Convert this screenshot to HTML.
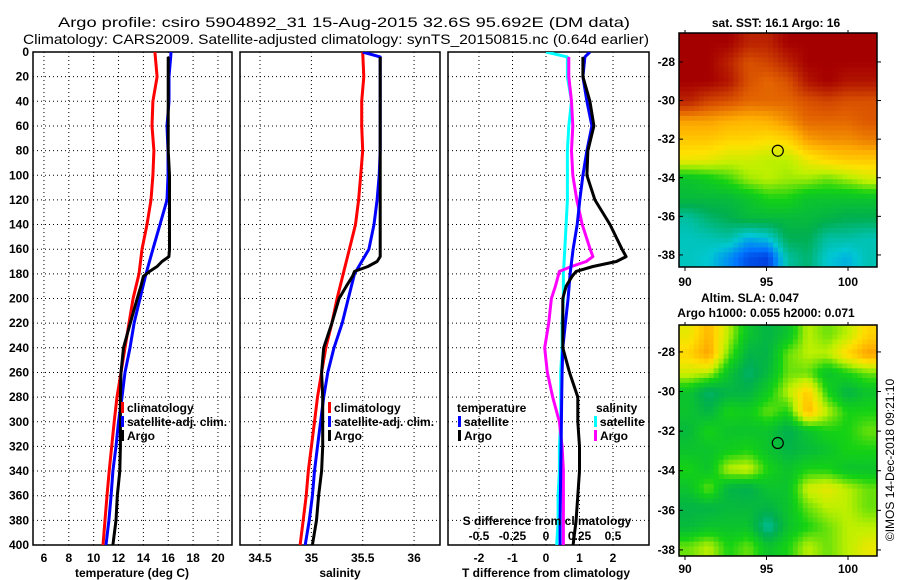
<!DOCTYPE html>
<html><head><meta charset="utf-8">
<style>
html,body{margin:0;padding:0;background:#fff;}
svg{display:block;}
text{font-family:"Liberation Sans",Arial,sans-serif;fill:#000;}
.tk{font-size:12px;font-weight:bold;}
.lg{font-size:12px;font-weight:bold;}
</style></head>
<body>
<svg id="chart" width="900" height="580" viewBox="0 0 900 580" xmlns="http://www.w3.org/2000/svg">
<defs>
<clipPath id="c1"><rect x="33" y="52" width="199" height="493"/></clipPath>
<clipPath id="c2"><rect x="240" y="52" width="200" height="493"/></clipPath>
<clipPath id="c3"><rect x="448" y="52" width="201" height="493"/></clipPath>
</defs>
<text x="344" y="27" font-size="14" text-anchor="middle" textLength="572" lengthAdjust="spacingAndGlyphs">Argo profile: csiro 5904892_31 15-Aug-2015 32.6S 95.692E (DM data)</text>
<text x="336" y="44" font-size="14" text-anchor="middle" textLength="626" lengthAdjust="spacingAndGlyphs">Climatology: CARS2009. Satellite-adjusted climatology: synTS_20150815.nc (0.64d earlier)</text>
<g id="g1"></g>
<g id="g2"></g>
<g id="g3"></g>
<g id="gm1"></g>
<g id="gm2"></g>
<text transform="translate(894,460) rotate(-90)" font-size="12" text-anchor="middle">©IMOS 14-Dec-2018 09:21:10</text>
</svg>
<script>
// ---- data ----
const climDepth = [0,20,40,60,80,100,120,140,160,180,200,220,240,260,280,300,320,340,360,380,400];
const climT = [14.93,15.10,14.77,14.69,14.85,14.77,14.61,14.29,13.89,13.65,13.17,12.84,12.52,12.2,11.88,11.65,11.45,11.25,11.07,10.91,10.75];
const climS = [35.50,35.51,35.49,35.49,35.50,35.48,35.46,35.43,35.37,35.31,35.25,35.20,35.14,35.10,35.06,35.03,35.0,34.97,34.95,34.92,34.89];
const satDepth = [0,4,20,40,60,80,100,120,140,160,180,200,220,240,260,280,300,320,340,360,380,400];
const satT = [16.22,16.2,16.06,16.06,15.90,15.98,15.98,15.90,15.34,14.77,14.21,13.73,13.25,12.92,12.52,12.28,12.0,11.8,11.55,11.4,11.23,10.99];
const satS = [35.50,35.67,35.67,35.67,35.67,35.67,35.66,35.64,35.61,35.56,35.42,35.36,35.30,35.22,35.16,35.12,35.09,35.06,35.03,35.01,34.98,34.94];
const satDT = [1.31,1.16,1.10,1.22,1.37,1.22,1.10,1.01,0.93,0.81,0.72,0.66,0.58,0.50,0.48,0.47,0.46,0.45,0.44,0.43,0.42,0.42];
const satDS = [0.0,0.16,0.16,0.19,0.17,0.16,0.16,0.16,0.15,0.14,0.13,0.13,0.12,0.12,0.11,0.11,0.11,0.10,0.10,0.09,0.09,0.08];
const argoDepth = [4,20,40,60,80,100,120,140,160,166,170,174,178,182,190,200,220,240,260,280,300,320,340,360,380,400];
const argoT = [16.0,16.0,16.0,16.0,16.0,16.1,16.1,16.1,16.1,16.05,15.5,15.1,14.5,14.0,13.8,13.5,12.95,12.4,12.2,12.15,12.15,12.15,12.1,11.9,11.8,11.55];
const argoS = [35.67,35.67,35.67,35.67,35.67,35.67,35.67,35.67,35.67,35.67,35.64,35.55,35.42,35.40,35.34,35.27,35.20,35.12,35.10,35.11,35.11,35.11,35.10,35.07,35.05,35.01];
const argoDT = [1.10,1.10,1.31,1.43,1.25,1.22,1.46,1.91,2.27,2.39,2.1,1.4,0.9,0.78,0.6,0.5,0.5,0.5,0.7,0.95,0.95,1.0,1.0,0.95,0.9,0.81];
const argoDS = [0.17,0.17,0.19,0.20,0.19,0.20,0.23,0.27,0.33,0.35,0.30,0.19,0.10,0.09,0.07,0.04,0.02,-0.01,0.01,0.05,0.10,0.12,0.13,0.13,0.13,0.13];
const depthTicks = [0,20,40,60,80,100,120,140,160,180,200,220,240,260,280,300,320,340,360,380,400];
const tTicks = [6,8,10,12,14,16,18,20];
const sTicks = [34.5,35,35.5,36];
const dtTicks = [-2,-1,0,1,2];
const dsTicks = [-0.5,-0.25,0,0.25,0.5];
const dsTickLabels = ["-0.5","-0.25","0","0.25","0.5"];
const latTicks = [-28,-30,-32,-34,-36,-38];
const lonTicks = [90,95,100];
const argoLon = 95.692, argoLat = -32.6;
const sstGrid = [
[1,1,1,.95,.95,1,1,1,1,1],
[1,1,.95,.88,.9,.95,1,1,1,1],
[1,1,.97,.88,.85,.88,.97,1,.97,.97],
[.95,.9,.88,.85,.85,.85,.88,.9,.88,.88],
[.78,.78,.76,.75,.76,.8,.85,.85,.85,.87],
[.72,.72,.7,.7,.68,.7,.78,.8,.8,.82],
[.66,.65,.62,.62,.6,.6,.66,.7,.72,.72],
[.45,.48,.52,.58,.6,.58,.58,.55,.58,.62],
[.42,.42,.42,.45,.5,.5,.45,.45,.45,.45],
[.3,.35,.38,.42,.42,.42,.42,.4,.38,.38],
[.27,.28,.3,.22,.25,.38,.38,.3,.3,.28],
[.27,.25,.18,.1,.08,.3,.35,.25,.22,.28]];
const slaGrid = [
[.65,.75,.6,.45,.4,.45,.6,.55,.6,.7],
[.7,.78,.55,.4,.4,.55,.6,.6,.7,.78],
[.62,.6,.45,.35,.42,.55,.55,.45,.5,.55],
[.45,.35,.4,.4,.48,.6,.72,.5,.4,.45],
[.45,.4,.5,.48,.55,.5,.75,.6,.5,.5],
[.42,.5,.45,.45,.45,.38,.45,.5,.5,.55],
[.45,.45,.48,.5,.45,.4,.42,.45,.5,.5],
[.5,.45,.6,.62,.5,.45,.5,.5,.45,.45],
[.45,.55,.4,.38,.45,.45,.62,.65,.6,.55],
[.4,.4,.42,.42,.4,.45,.55,.6,.6,.55],
[.42,.45,.45,.45,.3,.45,.5,.55,.6,.6],
[.55,.6,.5,.55,.45,.5,.6,.55,.6,.65]];

// ---- scales ----
const NS="http://www.w3.org/2000/svg";
const yD = d => 52 + d*1.2325;
const xT = t => 33 + (t-5.12)*12.43;
const xS = s => 240 + (s-34.305)*102.7;
const xDT = v => 546 + v*33.5;
const xDS = v => 546 + v*134;
function el(p,tag,attrs,txt){const e=document.createElementNS(NS,tag);for(const k in attrs)e.setAttribute(k,attrs[k]);if(txt!==undefined)e.textContent=txt;p.appendChild(e);return e;}

function frame(g,x0,x1,vTicks,xf){
  for(const d of depthTicks){const l=el(g,'line',{x1:x0,x2:x1,y1:yD(d),y2:yD(d),stroke:'#000','stroke-width':1,'stroke-dasharray':'1,3'});
    
    }
  for(const v of vTicks){const l=el(g,'line',{x1:xf(v),x2:xf(v),y1:52,y2:545,stroke:'#000','stroke-width':1,'stroke-dasharray':'1,3'});
    
    }
  const r=el(g,'rect',{x:x0,y:52,width:x1-x0,height:493,fill:'none',stroke:'#000','stroke-width':1.5});
  
  
}
function series(g,xs,ds,xf,color,name,clip){
  const pts=xs.map((v,i)=>xf(v).toFixed(1)+','+yD(ds[i]).toFixed(1)).join(' ');
  const p=el(g,'polyline',{points:pts,fill:'none',stroke:color,'stroke-width':3,'stroke-linejoin':'round','clip-path':'url(#'+clip+')'});
  
  
}
function label(g,x,y,t,anchor,cls,name){
  const e=el(g,'text',{x:x,y:y,'text-anchor':anchor,class:cls},t);
  
  
  return e;
}
function legendItem(g,x,y,color,t,name){
  const r=el(g,'rect',{x:x,y:y-10,width:3,height:11,fill:color});
  
  
  label(g,x+6,y,t,'start','lg',name);
}

// Panel 1
const g1=document.getElementById('g1');
frame(g1,33,232,tTicks,xT);
for(const d of depthTicks) label(g1,29,yD(d)+4,String(d),'end','tk','depth-tick-label');
for(const t of tTicks) label(g1,xT(t),562,String(t),'middle','tk','temperature-tick-label');
label(g1,132,577,'temperature (deg C)','middle','tk','x-axis-title-temperature');
series(g1,climT,climDepth,xT,'#ff0000','climatology-temperature-line','c1');
series(g1,satT,satDepth,xT,'#0000ff','satellite-temperature-line','c1');
series(g1,argoT,argoDepth,xT,'#000000','argo-temperature-line','c1');
legendItem(g1,121,412,'#ff0000','climatology','legend-climatology');
legendItem(g1,121,426,'#0000ff','satellite-adj. clim.','legend-satellite');
legendItem(g1,121,440,'#000000','Argo','legend-argo');

// Panel 2
const g2=document.getElementById('g2');
frame(g2,240,440,sTicks,xS);
const sLab=["34.5","35","35.5","36"];
sTicks.forEach((s,i)=>label(g2,xS(s),562,sLab[i],'middle','tk','salinity-tick-label'));
label(g2,340,577,'salinity','middle','tk','x-axis-title-salinity');
series(g2,climS,climDepth,xS,'#ff0000','climatology-salinity-line','c2');
series(g2,satS,satDepth,xS,'#0000ff','satellite-salinity-line','c2');
series(g2,argoS,argoDepth,xS,'#000000','argo-salinity-line','c2');
legendItem(g2,328,412,'#ff0000','climatology','legend-climatology');
legendItem(g2,328,426,'#0000ff','satellite-adj. clim.','legend-satellite');
legendItem(g2,328,440,'#000000','Argo','legend-argo');

// Panel 3
const g3=document.getElementById('g3');
frame(g3,448,649,dtTicks,xDT);
for(const v of dtTicks) label(g3,xDT(v),562,String(v),'middle','tk','t-diff-tick-label');
label(g3,546,577,'T difference from climatology','middle','tk','x-axis-title-t-diff');
series(g3,satDS,satDepth,xDS,'#00ffff','satellite-salinity-diff-line','c3');
series(g3,argoDS,argoDepth,xDS,'#ff00ff','argo-salinity-diff-line','c3');
series(g3,satDT,satDepth,xDT,'#0000ff','satellite-temperature-diff-line','c3');
series(g3,argoDT,argoDepth,xDT,'#000000','argo-temperature-diff-line','c3');
label(g3,457,412,'temperature','start','lg','legend-temperature-heading');
legendItem(g3,458,426,'#0000ff','satellite','legend-temp-satellite');
legendItem(g3,458,440,'#000000','Argo','legend-temp-argo');
label(g3,596,412,'salinity','start','lg','legend-salinity-heading');
legendItem(g3,594,426,'#00ffff','satellite','legend-sal-satellite');
legendItem(g3,594,440,'#ff00ff','Argo','legend-sal-argo');
label(g3,547,525,'S difference from climatology','middle','tk','s-diff-axis-title');
dsTicks.forEach((v,i)=>label(g3,xDS(v),540,dsTickLabels[i],'middle','tk','s-diff-tick-label'));

// colormaps
const stops=[[0,[0,0,190]],[0.15,[0,120,255]],[0.25,[0,200,210]],[0.38,[0,175,80]],[0.5,[20,210,20]],[0.6,[190,240,0]],[0.68,[255,225,0]],[0.76,[255,175,0]],[0.86,[225,95,0]],[1,[165,0,0]]];
function cmap(v){for(let i=1;i<stops.length;i++){if(v<=stops[i][0]){const a=stops[i-1],b=stops[i],f=(v-a[0])/(b[0]-a[0]);return 'rgb('+a[1].map((c,k)=>Math.round(c+(b[1][k]-c)*f)).join(',')+')';}}return 'rgb(165,0,0)';}
// bilinear sampling of grid (display smoothing only)
function sample(grid,u,v){
  const rows=grid.length,cols=grid[0].length;
  const fx=Math.min(Math.max(u*cols-0.5,0),cols-1), fy=Math.min(Math.max(v*rows-0.5,0),rows-1);
  const x0=Math.floor(fx),y0=Math.floor(fy),x1=Math.min(x0+1,cols-1),y1=Math.min(y0+1,rows-1);
  const ax=fx-x0,ay=fy-y0;
  return grid[y0][x0]*(1-ax)*(1-ay)+grid[y0][x1]*ax*(1-ay)+grid[y1][x0]*(1-ax)*ay+grid[y1][x1]*ax*ay;
}

function drawMap(g,grid,x0,y0,w,h,latTop,latPerPx,lon0x,lonPerPx,labY){
  const sub=4,rows=grid.length*sub,cols=grid[0].length*sub,cw=w/cols,ch=h/rows;
  for(let r=0;r<rows;r++)for(let c=0;c<cols;c++){
    const v=sample(grid,(c+0.5)/cols,(r+0.5)/rows);
    const e=el(g,'rect',{x:(x0+c*cw).toFixed(2),y:(y0+r*ch).toFixed(2),width:(cw+0.5).toFixed(2),height:(ch+0.5).toFixed(2),fill:cmap(v)});
    
    
  }
  const fr=el(g,'rect',{x:x0,y:y0,width:w,height:h,fill:'none',stroke:'#000','stroke-width':1.5});
  
  
  const yL=lat=>y0+(latTop-lat)/latPerPx;
  const xL=lon=>lon0x+(lon-90)/lonPerPx;
  for(const lat of latTicks){
    const y=yL(lat);
    el(g,'line',{x1:x0,x2:x0+4,y1:y,y2:y,stroke:'#000'});
    el(g,'line',{x1:x0+w,x2:x0+w+4,y1:y,y2:y,stroke:'#000'});
    label(g,x0-4,y+4,String(lat),'end','tk','map-lat-tick-label');
  }
  for(const lon of lonTicks){
    const x=xL(lon);
    el(g,'line',{x1:x,x2:x,y1:y0+h,y2:y0+h+4,stroke:'#000'});
    el(g,'line',{x1:x,x2:x,y1:y0,y2:y0-3,stroke:'#000'});
    label(g,x,labY,String(lon),'middle','tk','map-lon-tick-label');
  }
  const c=el(g,'circle',{cx:xL(argoLon),cy:yL(argoLat),r:5.5,fill:'none',stroke:'#000','stroke-width':1.2});
  
  
}
const gm1=document.getElementById('gm1');
drawMap(gm1,sstGrid,679,33,198,234,-26.5,1/19.3,685,1/16.3,286);
label(gm1,776,27,'sat. SST: 16.1  Argo: 16','middle','tk','sst-map-title');
const gm2=document.getElementById('gm2');
drawMap(gm2,slaGrid,679,325,198,231,-26.64,1/19.8,685,1/16.3,573);
label(gm2,750,302,'Altim. SLA: 0.047','middle','tk','sla-map-title');
label(gm2,766,317,'Argo h1000: 0.055 h2000: 0.071','middle','tk','sla-map-subtitle');
</script>
</body></html>
